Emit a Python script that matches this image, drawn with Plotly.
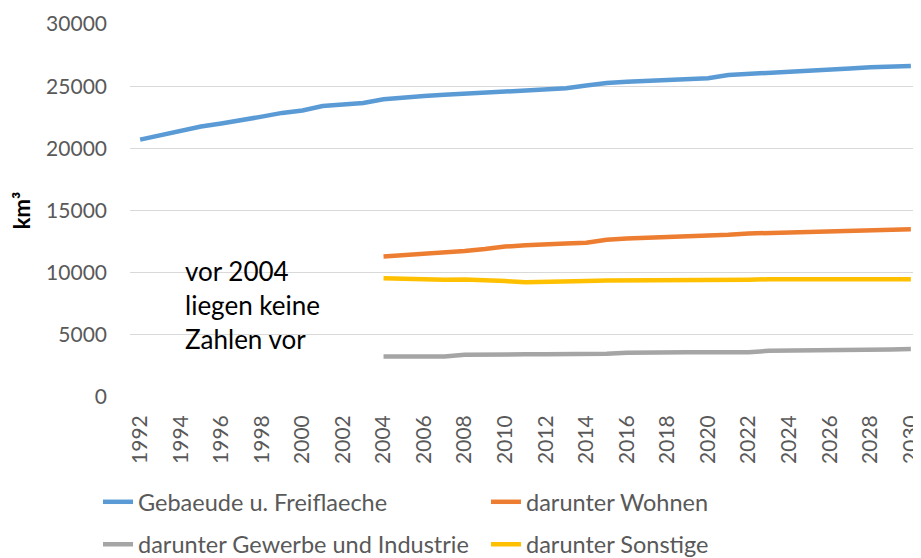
import plotly.graph_objects as go

years_all = list(range(1992, 2031))
years_part = list(range(2004, 2031))

gebaeude = [20700, 21050, 21400, 21750, 22000, 22250, 22550, 22850, 23050, 23400,
            23550, 23650, 23950, 24100, 24200, 24300, 24400, 24500, 24600, 24700,
            24780, 24830, 25050, 25250, 25350, 25430, 25500, 25580, 25630, 25900,
            25980, 26030, 26130, 26230, 26330, 26430, 26530, 26560, 26630]

wohnen = [11300, 11400, 11500, 11600, 11750, 11900, 12100, 12200, 12300, 12350,
          12400, 12650, 12750, 12800, 12850, 12900, 12950, 13050, 13150, 13200,
          13250, 13300, 13350, 13380, 13420, 13460, 13500]

gewerbe = [3250, 3250, 3250, 3250, 3400, 3430, 3430, 3430, 3430, 3430,
           3430, 3480, 3550, 3590, 3590, 3590, 3590, 3590, 3590, 3720,
           3730, 3730, 3730, 3730, 3730, 3830, 3860]

sonstige = [9550, 9500, 9420, 9430, 9450, 9420, 9320, 9230, 9230, 9240,
            9320, 9360, 9360, 9360, 9360, 9360, 9360, 9360, 9440, 9470,
            9470, 9470, 9470, 9470, 9470, 9470, 9470]

names = ["Gebaeude u. Freiflaeche", "darunter Wohnen",
         "darunter Gewerbe und Industrie", "darunter Sonstige"]
colors = ["#5B9BD5", "#ED7D31", "#A5A5A5", "#FFC000"]

FONT = "Lato"
GRAY = "#595959"

fig = go.Figure()
series = [(years_all, gebaeude), (years_part, wohnen), (years_part, gewerbe), (years_part, sonstige)]
legends = ["legend", "legend", "legend2", "legend2"]
for (x, y), n, c, lg in zip(series, names, colors, legends):
    fig.add_trace(go.Scatter(x=x, y=y, mode="lines", name=n,
                             line=dict(color=c, width=4.5, shape="linear"),
                             legend=lg, hoverinfo="skip"))

fig.add_annotation(text="vor 2004<br>liegen keine<br>Zahlen vor", xref="x", yref="y",
                   x=1994.1, y=11550, xanchor="left", yanchor="top", align="left",
                   showarrow=False, font=dict(family=FONT, size=26, color="#000000"))

legend_common = dict(orientation="h", xanchor="left", yanchor="middle",
                     xref="container", yref="container",
                     font=dict(family=FONT, size=23.5, color=GRAY),
                     bgcolor="rgba(0,0,0,0)", entrywidth=343, entrywidthmode="pixels",
                     itemclick=False, itemdoubleclick=False)

# the page body adds an 8px offset, so the figure is 8px smaller than the window
fig.update_layout(
    width=913, height=550,
    margin=dict(l=122, r=0, t=16, b=161, autoexpand=False),
    paper_bgcolor="white", plot_bgcolor="white",
    font=dict(family=FONT, size=21, color=GRAY),
    showlegend=True,
    legend=dict(x=0.0986, y=0.1018, **legend_common),
    legend2=dict(x=0.0986, y=0.0245, **legend_common),
    xaxis=dict(range=[1991.5, 2030.5], tickmode="linear", tick0=1992, dtick=2,
               tickangle=-90, showgrid=False, zeroline=False, showline=False,
               ticks="", tickfont=dict(family=FONT, size=21, color=GRAY),
               ticklabelstandoff=13, ticklabeloverflow="allow", fixedrange=True),
    yaxis=dict(range=[0, 30000], dtick=5000, showgrid=True, gridcolor="#D9D9D9",
               gridwidth=1.3, zeroline=False, showline=False, ticks="",
               tickformat="d", tickfont=dict(family=FONT, size=21, color=GRAY),
               ticklabelstandoff=22, fixedrange=True,
               title=dict(text="<b>km³</b>", standoff=12,
                          font=dict(family=FONT, size=22, color="#000000"))),
)

fig.write_html("out.html")
